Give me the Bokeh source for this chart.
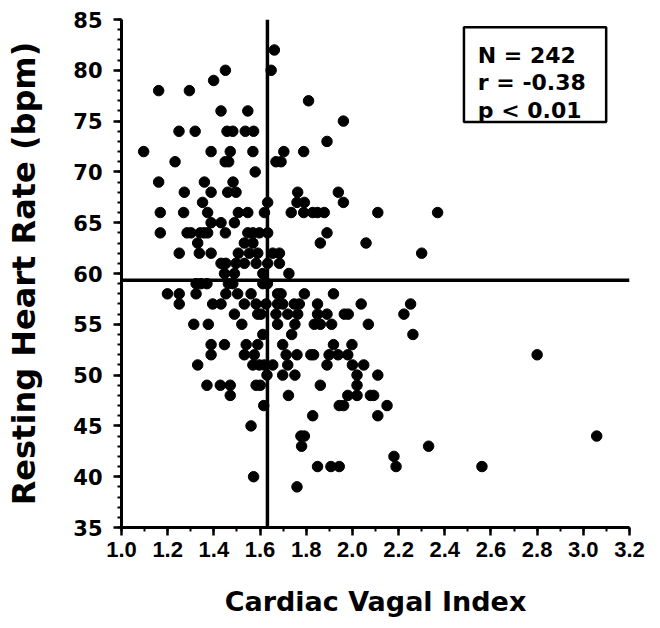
from bokeh.plotting import figure
from bokeh.models import Range1d, SingleIntervalTicker, PrintfTickFormatter, Span, BoxAnnotation, Label
from bokeh.embed import file_html
from bokeh.resources import INLINE

# Cardiac Vagal Index (x) and resting heart rate in bpm (y)
cvi = [
    1.662,
    1.450, 1.648,
    1.399,
    1.161, 1.294,
    1.810,
    1.431, 1.547,
    1.961,
    1.249, 1.319, 1.457, 1.482, 1.536, 1.572,
    1.890,
    1.096, 1.388, 1.471, 1.569, 1.703, 1.789,
    1.232, 1.449, 1.464, 1.669, 1.691,
    1.579,
    1.161, 1.359, 1.483,
    1.272, 1.388, 1.460, 1.496, 1.763, 1.939,
    1.351, 1.633, 1.760, 1.792, 1.961,
    1.168, 1.269, 1.373, 1.506, 1.547, 1.619, 1.735, 1.789, 1.828, 1.849, 1.878, 2.110, 2.369,
    1.388, 1.431, 1.489,
    1.168, 1.284, 1.301, 1.341, 1.358, 1.373, 1.450, 1.547, 1.569, 1.597, 1.633, 1.890,
    1.330, 1.532, 1.569, 1.861, 2.059,
    1.250, 1.337, 1.388, 1.506, 1.554, 1.590, 1.655, 1.684, 2.300,
    1.431, 1.452, 1.496, 1.532, 1.583, 1.633, 1.684,
    1.446, 1.489, 1.612, 1.725,
    1.323, 1.344, 1.370, 1.463, 1.482, 1.612, 1.632,
    1.199, 1.250, 1.323, 1.452, 1.503, 1.561, 1.676, 1.691, 1.792, 1.918,
    1.250, 1.395, 1.431, 1.532, 1.583, 1.626, 1.676, 1.698, 1.748, 1.770, 1.849, 2.038, 2.252,
    1.489, 1.590, 1.604, 1.669, 1.720, 1.763, 1.849, 1.890, 1.965, 1.982, 2.223,
    1.313, 1.376, 1.521, 1.676, 1.751, 1.835, 1.861, 1.910, 2.069,
    1.612, 1.737, 2.262,
    1.388, 1.446, 1.540, 1.590, 1.698, 1.918, 1.998,
    1.388, 1.532, 1.575, 1.713, 1.760, 1.820, 1.832, 1.899, 1.938, 1.980, 2.800,
    1.330, 1.569, 1.597, 1.619, 1.655, 1.720, 1.890, 2.000, 2.049,
    1.630, 1.698, 1.751, 2.020, 2.110,
    1.370, 1.428, 1.471, 1.583, 1.601, 1.861, 2.020,
    1.471, 1.723, 1.980, 2.020, 2.078, 2.092,
    1.616, 1.943, 1.962, 2.150,
    1.828, 2.110,
    1.561,
    1.777, 1.792, 3.058,
    1.780, 2.330,
    2.180,
    1.849, 1.907, 1.943, 2.189, 2.561,
    1.572,
    1.760,
]

heart_rate = [
    82,
    80, 80,
    79,
    78, 78,
    77,
    76, 76,
    75,
    74, 74, 74, 74, 74, 74,
    73,
    72, 72, 72, 72, 72, 72,
    71, 71, 71, 71, 71,
    70,
    69, 69, 69,
    68, 68, 68, 68, 68, 68,
    67, 67, 67, 67, 67,
    66, 66, 66, 66, 66, 66, 66, 66, 66, 66, 66, 66, 66,
    65, 65, 65,
    64, 64, 64, 64, 64, 64, 64, 64, 64, 64, 64, 64,
    63, 63, 63, 63, 63,
    62, 62, 62, 62, 62, 62, 62, 62, 62,
    61, 61, 61, 61, 61, 61, 61,
    60, 60, 60, 60,
    59, 59, 59, 59, 59, 59, 59,
    58, 58, 58, 58, 58, 58, 58, 58, 58, 58,
    57, 57, 57, 57, 57, 57, 57, 57, 57, 57, 57, 57, 57,
    56, 56, 56, 56, 56, 56, 56, 56, 56, 56, 56,
    55, 55, 55, 55, 55, 55, 55, 55, 55,
    54, 54, 54,
    53, 53, 53, 53, 53, 53, 53,
    52, 52, 52, 52, 52, 52, 52, 52, 52, 52, 52,
    51, 51, 51, 51, 51, 51, 51, 51, 51,
    50, 50, 50, 50, 50,
    49, 49, 49, 49, 49, 49, 49,
    48, 48, 48, 48, 48, 48,
    47, 47, 47, 47,
    46, 46,
    45,
    44, 44, 44,
    43, 43,
    42,
    41, 41, 41, 41, 41,
    40,
    39,
]

mean_cvi = 1.632
mean_hr = 59.33

stats_lines = ["N = 242", "r = -0.38", "p < 0.01"]
stats_y = [81.43, 78.77, 76.08]
stats_x = 2.543
box_left, box_right, box_bottom, box_top = 2.483, 3.099, 74.9, 84.23

x_title = "Cardiac Vagal Index"
y_title = "Resting Heart Rate (bpm)"

p = figure(frame_width=508, frame_height=508, output_backend="svg", toolbar_location=None,
           x_range=Range1d(1.0, 3.2), y_range=Range1d(35, 85),
           min_border_left=121, min_border_right=21, min_border_top=19, min_border_bottom=90)
p.outline_line_color = None
p.xgrid.visible = False
p.ygrid.visible = False
p.background_fill_color = "white"
p.border_fill_color = "white"

p.scatter(cvi, heart_rate, size=10.5, color="black", line_color="black")

p.add_layout(Span(location=mean_cvi, dimension="height", line_color="black", line_width=3.5))
p.add_layout(Span(location=mean_hr, dimension="width", line_color="black", line_width=3.5))

p.add_layout(BoxAnnotation(left=box_left, right=box_right, bottom=box_bottom, top=box_top,
                           fill_color="white", fill_alpha=1.0, line_color="black",
                           line_alpha=1.0, line_width=2.5))
for txt, yy in zip(stats_lines, stats_y):
    p.add_layout(Label(x=stats_x, y=yy, text=txt, text_font="DejaVu Sans", text_font_style="bold",
                       text_font_size="22px", text_baseline="alphabetic", text_color="black"))

xa = p.xaxis[0]
xa.ticker = SingleIntervalTicker(interval=0.2, num_minor_ticks=2)
xa.formatter = PrintfTickFormatter(format="%.1f")
xa.axis_label = x_title
xa.axis_label_text_font = "DejaVu Sans"
xa.axis_label_text_font_style = "bold"
xa.axis_label_text_font_size = "27px"
xa.axis_label_standoff = 26
xa.major_label_text_font = "Liberation Sans"
xa.major_label_text_font_style = "bold"
xa.major_label_text_font_size = "22px"
xa.major_label_standoff = 6

ya = p.yaxis[0]
ya.ticker = SingleIntervalTicker(interval=5, num_minor_ticks=5)
ya.axis_label = y_title
ya.axis_label_text_font = "DejaVu Sans"
ya.axis_label_text_font_style = "bold"
ya.axis_label_text_font_size = "32px"
ya.axis_label_standoff = 27
ya.major_label_text_font = "DejaVu Sans"
ya.major_label_text_font_style = "bold"
ya.major_label_text_font_size = "21px"
ya.major_label_standoff = 11

for ax in (xa, ya):
    ax.axis_line_width = 3
    ax.axis_line_color = "black"
    ax.major_tick_line_width = 2.5
    ax.minor_tick_line_width = 2
    ax.major_tick_in = 0
    ax.minor_tick_in = 0
    ax.major_tick_out = 8
    ax.minor_tick_out = 4
    ax.major_label_text_color = "black"
    ax.axis_label_text_color = "black"

open("out.html", "w").write(file_html(p, INLINE))
